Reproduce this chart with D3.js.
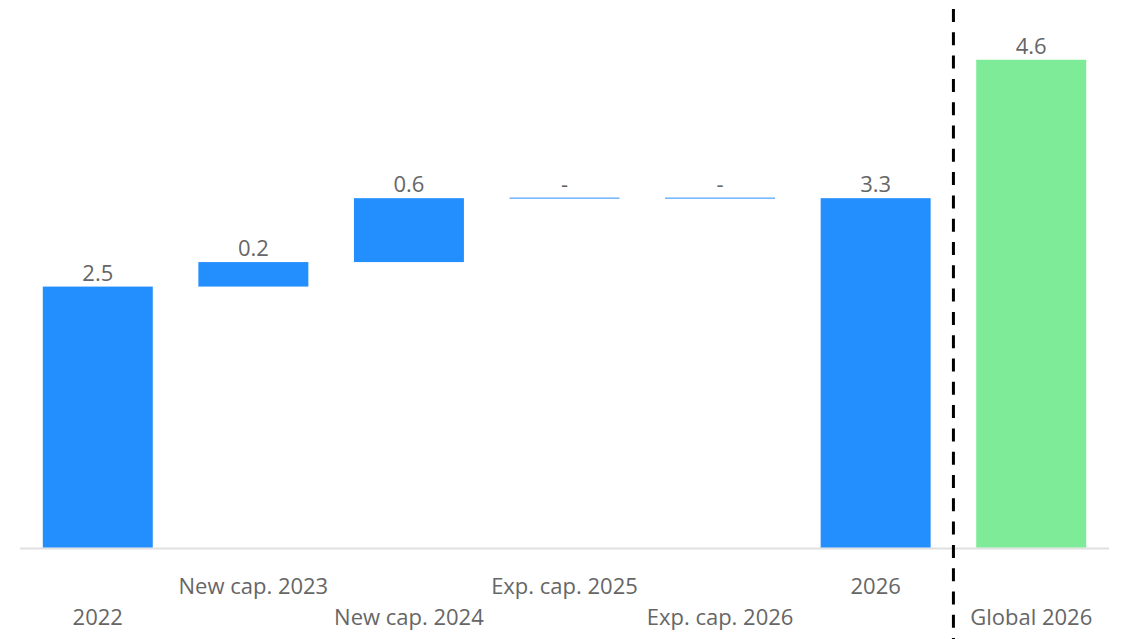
<!DOCTYPE html>
<html>
<head>
<meta charset="utf-8">
<script src="https://cdn.jsdelivr.net/npm/d3@7"></script>
<style>
  html, body { margin: 0; padding: 0; background: #fff; }
  svg { display: block; }
</style>
</head>
<body>
<div id="chart"></div>
<script>
var categories = ['2022', 'New cap. 2023', 'New cap. 2024', 'Exp. cap. 2025', 'Exp. cap. 2026', '2026', 'Global 2026'];
// kind: start / step / total / global
var kinds = ['start', 'step', 'step', 'step', 'step', 'total', 'global'];
var values = [2.45, 0.23, 0.6, 0, 0, null, 4.58];

var width = 1128, height = 639;
var baseY = 547.5;

// build waterfall rows
var running = 0;
var rows = categories.map(function(c, i) {
  var k = kinds[i], v = values[i], y0, y1;
  if (k === 'start') { y0 = 0; y1 = v; running = v; }
  else if (k === 'step') { y0 = running; y1 = running + v; running = y1; }
  else if (k === 'total') { v = running; y0 = 0; y1 = running; }
  else { y0 = 0; y1 = v; }
  return {cat: c, kind: k, value: v, y0: y0, y1: y1, row: i % 2};
});

var svg = d3.select('#chart').append('svg')
  .attr('width', width)
  .attr('height', height);

var x = d3.scaleBand()
  .domain(categories)
  .range([20, 1109])
  .paddingInner(0.293)
  .paddingOuter(0.1465);

var y = d3.scaleLinear()
  .domain([0, 5])
  .range([baseY, baseY - 5 * 106.5]);

// baseline
svg.append('line')
  .attr('x1', 20).attr('x2', 1109)
  .attr('y1', baseY + 1).attr('y2', baseY + 1)
  .style('stroke', '#e0e0e0')
  .style('stroke-width', 2);

// bars
svg.selectAll('rect.bar')
  .data(rows)
  .enter().append('rect')
  .attr('class', 'bar')
  .attr('x', function(d) { return x(d.cat); })
  .attr('width', x.bandwidth())
  .attr('y', function(d) {
    var h = Math.abs(y(d.y0) - y(d.y1));
    return h < 1.5 ? y(d.y1) - 0.75 : Math.min(y(d.y0), y(d.y1));
  })
  .attr('height', function(d) { return Math.max(1.5, Math.abs(y(d.y0) - y(d.y1))); })
  .style('fill', function(d) {
    if (d.kind === 'global') return '#7deb97';
    return d.value === 0 ? '#72b4ff' : '#238fff';
  });

// value labels
svg.selectAll('text.val')
  .data(rows)
  .enter().append('text')
  .attr('class', 'val')
  .attr('x', function(d) { return x(d.cat) + x.bandwidth() / 2; })
  .attr('y', function(d) { return y(Math.max(d.y0, d.y1)) - 6; })
  .attr('text-anchor', 'middle')
  .style('font-family', '"Open Sans", "Noto Sans", sans-serif')
  .style('font-size', '22px')
  .style('fill', '#666')
  .text(function(d) { return d.value === 0 ? '-' : d3.format('.1f')(d.value); });

// category labels, staggered in two rows
svg.selectAll('text.cat')
  .data(rows)
  .enter().append('text')
  .attr('class', 'cat')
  .attr('x', function(d) { return x(d.cat) + x.bandwidth() / 2; })
  .attr('y', function(d) { return d.kind === 'global' || d.row === 0 ? 625 : 594; })
  .attr('text-anchor', 'middle')
  .style('font-family', '"Open Sans", "Noto Sans", sans-serif')
  .style('font-size', '22px')
  .style('fill', '#666')
  .text(function(d) { return d.cat; });

// dashed divider between 2026 and Global 2026
var divX = (x('2026') + x.bandwidth() + x('Global 2026')) / 2;
svg.append('line')
  .attr('x1', divX).attr('x2', divX)
  .attr('y1', 9).attr('y2', height)
  .style('stroke', '#000')
  .style('stroke-width', 3)
  .style('stroke-dasharray', '13,10.3');
</script>
</body>
</html>
